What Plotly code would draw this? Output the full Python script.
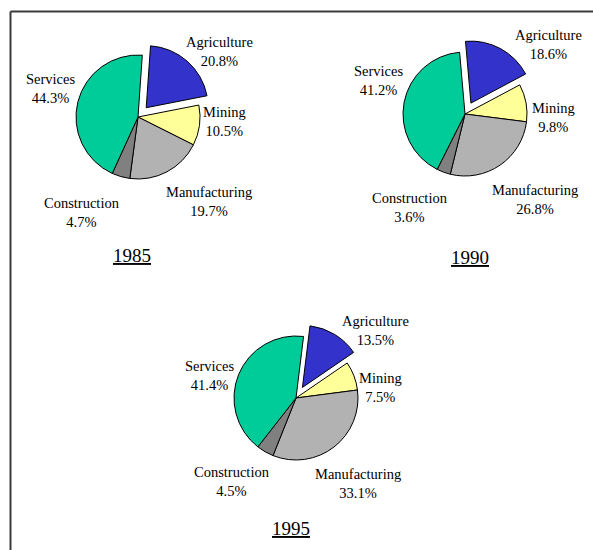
import plotly.graph_objects as go

# ---------------- data ----------------
categories = ["Agriculture", "Mining", "Manufacturing", "Construction", "Services"]
share_1985 = [20.8, 10.5, 19.7, 4.7, 44.3]
share_1990 = [18.6, 9.8, 26.8, 3.6, 41.2]
share_1995 = [13.5, 7.5, 33.1, 4.5, 41.4]
years = ["1985", "1990", "1995"]

# ---------------- styling / layout ----------------
W, H = 593, 550
colors = ["#3333CC", "#FFFF99", "#B2B2B2", "#808080", "#00CC99"]
pulls = [0.2, 0, 0, 0, 0]
FONT = "Liberation Serif, Times New Roman, serif"

# pie centre (px from left, px from top), radius px, rotation
pie_geom = [
    (138, 117, 62, 4),
    (465, 114, 62, -5),
    (296, 398, 62, 7),
]
# label block centres per pie, in category order
label_pos = [
    [(219, 51), (224, 122), (209, 202), (82, 212), (50, 88)],
    [(548, 45), (553, 117), (535, 199), (410, 207), (378, 81)],
    [(375, 330), (380, 387), (358, 483), (232, 481), (209, 375)],
]
title_pos = [(132, 255), (470, 257), (291, 528)]

all_shares = [share_1985, share_1990, share_1995]

fig = go.Figure()
annotations = []
for (cx, cy, r, rot), shares, lpos, tpos, yr in zip(pie_geom, all_shares, label_pos, title_pos, years):
    half = r * (1 + max(pulls))
    fig.add_trace(go.Pie(
        labels=categories,
        values=shares,
        sort=False,
        direction="clockwise",
        rotation=rot,
        pull=pulls,
        marker=dict(colors=colors, line=dict(color="#000000", width=1)),
        textinfo="none",
        hoverinfo="label+value",
        showlegend=False,
        domain=dict(x=[(cx - half) / W, (cx + half) / W],
                    y=[(H - cy - half) / H, (H - cy + half) / H]),
    ))
    for cat, val, (lx, ly) in zip(categories, shares, lpos):
        annotations.append(dict(
            x=lx / W, y=1 - ly / H, xref="paper", yref="paper",
            xanchor="center", yanchor="middle", showarrow=False,
            text=f"{cat}<br>{val:.1f}%",
            font=dict(family=FONT, size=14.5, color="#000000"),
        ))
    annotations.append(dict(
        x=tpos[0] / W, y=1 - tpos[1] / H, xref="paper", yref="paper",
        xanchor="center", yanchor="middle", showarrow=False,
        text=f"<u>{yr}</u>",
        font=dict(family=FONT, size=19, color="#000000"),
    ))

shapes = [
    dict(type="line", xref="paper", yref="paper",
         x0=10.5 / W, x1=1.0, y0=1 - 11.5 / H, y1=1 - 11.5 / H,
         line=dict(color="#3a3a3a", width=2)),
    dict(type="line", xref="paper", yref="paper",
         x0=10.5 / W, x1=10.5 / W, y0=1 - 11.5 / H, y1=0,
         line=dict(color="#3a3a3a", width=2)),
]

fig.update_layout(
    width=W, height=H,
    margin=dict(l=0, r=0, t=0, b=0),
    paper_bgcolor="#FFFFFF",
    plot_bgcolor="#FFFFFF",
    annotations=annotations,
    shapes=shapes,
    font=dict(family=FONT),
)

fig.write_html(
    "out.html",
    config={"displayModeBar": False},
    post_script="document.body.style.margin='0';document.body.style.overflow='hidden';",
)
